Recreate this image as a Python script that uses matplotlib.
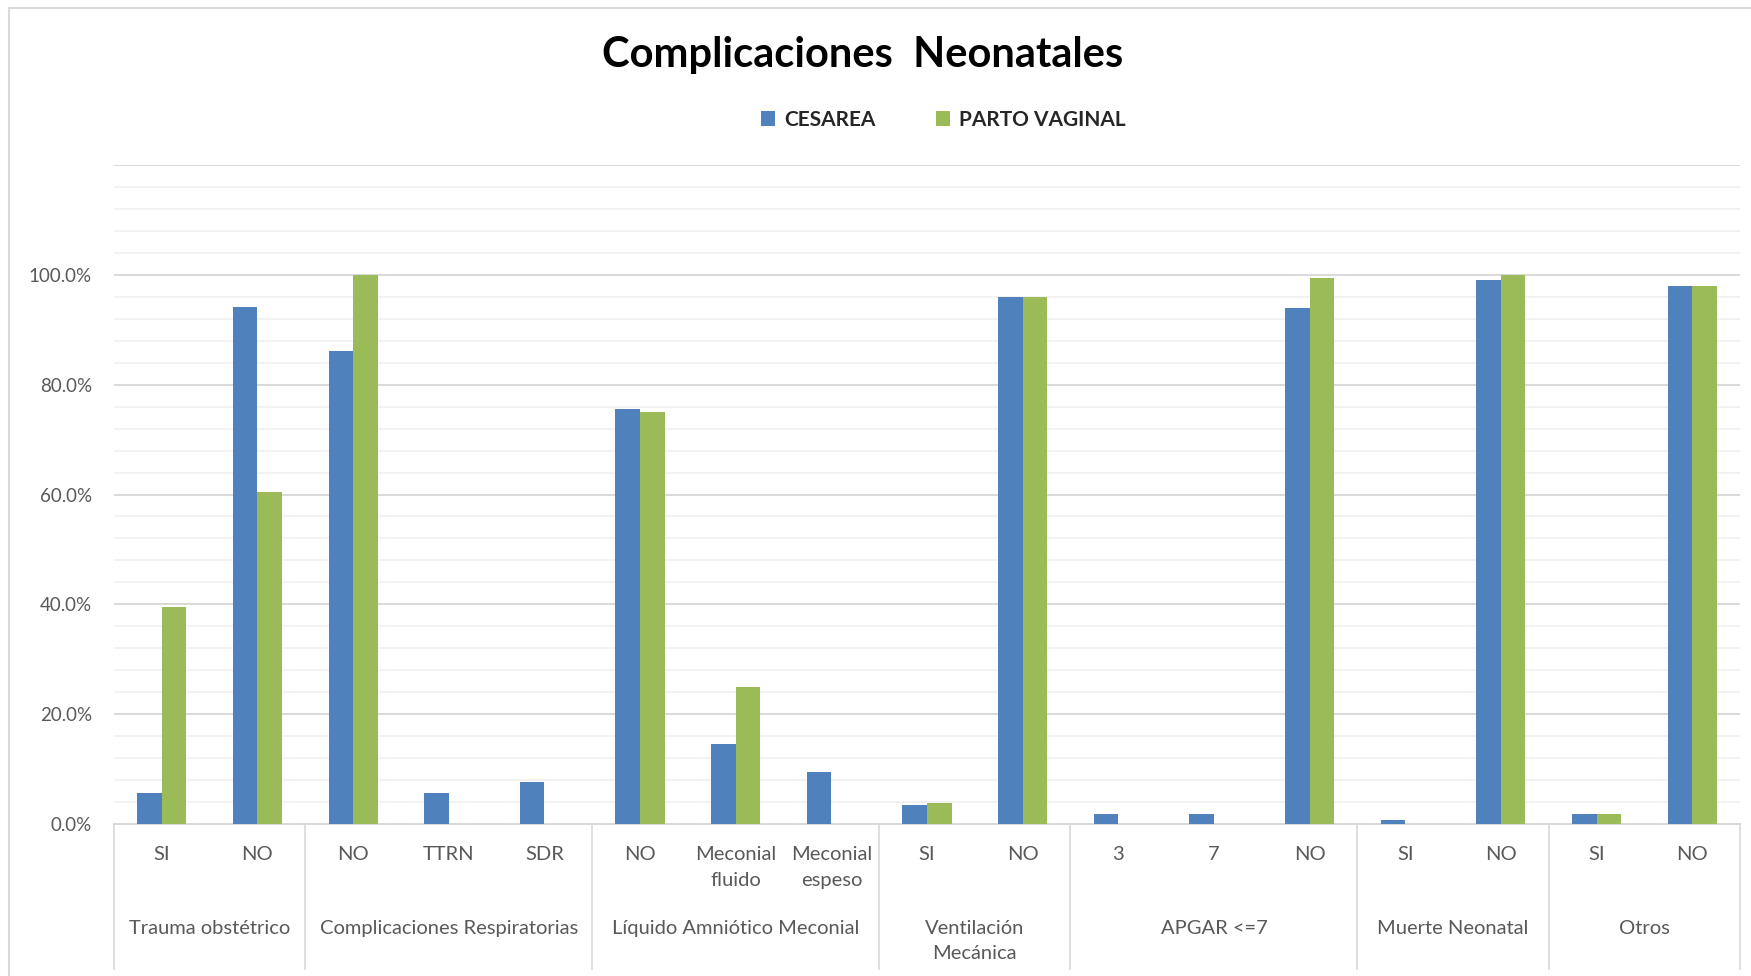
import matplotlib
matplotlib.use("Agg")
import matplotlib.pyplot as plt
from matplotlib.patches import Rectangle
import numpy as np

plt.rcParams['font.family'] = ['Lato', 'DejaVu Sans']

# Datos
TITLE = "Complicaciones  Neonatales"
SERIES = ["CESAREA", "PARTO VAGINAL"]
COLORS = ["#4F81BD", "#9BBB59"]

groups = ["Trauma obstétrico", "Complicaciones Respiratorias",
          "Líquido Amniótico Meconial", "Ventilación\nMecánica",
          "APGAR <=7", "Muerte Neonatal", "Otros"]
group_sizes = [2, 3, 3, 2, 3, 2, 2]
categories = ["SI", "NO",
              "NO", "TTRN", "SDR",
              "NO", "Meconial\nfluido", "Meconial\nespeso",
              "SI", "NO",
              "3", "7", "NO",
              "SI", "NO",
              "SI", "NO"]
cesarea = [5.6, 94.2, 86.2, 5.6, 7.7, 75.5, 14.6, 9.5, 3.5, 95.9,
           1.8, 1.8, 93.9, 0.8, 99.0, 1.8, 98.0]
vaginal = [39.6, 60.4, 100.0, 0, 0, 75.0, 25.0, 0, 3.8, 95.9,
           0, 0, 99.4, 0, 100.0, 1.8, 98.0]

W, H = 1751, 976
fig = plt.figure(figsize=(W / 100, H / 100), dpi=100)
ax = fig.add_axes([114 / W, 1 - 824 / H, (1740 - 114) / W, (824 - 165) / H])

x = np.arange(len(categories))
bw = 0.257
ax.bar(x - bw / 2, cesarea, bw, color=COLORS[0], label=SERIES[0], zorder=3)
ax.bar(x + bw / 2, vaginal, bw, color=COLORS[1], label=SERIES[1], zorder=3)

ax.set_xlim(-0.5, len(categories) - 0.5)
ax.set_ylim(0, 120)
major = np.arange(0, 121, 20)
ax.set_yticks(major)
ax.set_yticklabels([f"{v:.1f}%" if v <= 100 else "" for v in major])
ax.set_yticks(np.arange(0, 121, 4), minor=True)
ax.grid(which='minor', axis='y', color='#F0F0F0', lw=1.2, zorder=0)
ax.grid(which='major', axis='y', color='#D9D9D9', lw=1.4, zorder=1)
ax.tick_params(axis='y', which='both', length=0, pad=16, labelsize=13.5,
               labelcolor='#595959')
ax.set_xticks([])
for s in ['top', 'right', 'left']:
    ax.spines[s].set_visible(False)
ax.spines['bottom'].set_color('#D9D9D9')
ax.spines['bottom'].set_linewidth(1.4)

tr = ax.get_xaxis_transform()
for xi, lab in zip(x, categories):
    ax.text(xi, -0.034, lab, transform=tr, ha='center', va='top',
            fontsize=14.5, color='#595959', linespacing=1.6)

# separadores y etiquetas de grupo
edges = np.concatenate([[0], np.cumsum(group_sizes)]) - 0.5
for e in edges:
    ax.plot([e, e], [0, -0.22], transform=tr, color='#D9D9D9', lw=1.2,
            clip_on=False)
for g, a, b in zip(groups, edges[:-1], edges[1:]):
    ax.text((a + b) / 2, -0.145, g, transform=tr, ha='center', va='top',
            fontsize=14.5, color='#595959', linespacing=1.6)

fig.text(863 / W, 1 - 55 / H, TITLE, ha='center', va='center',
         fontsize=30, fontweight='bold', color='black')
leg = fig.legend(loc='center', bbox_to_anchor=(943 / W, 1 - 120 / H), ncol=2,
                 frameon=False, handlelength=0.7, handleheight=0.7,
                 columnspacing=2.9, handletextpad=0.4,
                 prop={'size': 15, 'weight': 'bold'})
for t in leg.get_texts():
    t.set_color('#262626')

# borde del grafico
fig.patches.append(Rectangle((9 / W, -0.1), 1.2, 1 - 8 / H + 0.1,
                             transform=fig.transFigure, fill=False,
                             edgecolor='#D9D9D9', lw=1.5))

fig.savefig("out.png", dpi=100)
